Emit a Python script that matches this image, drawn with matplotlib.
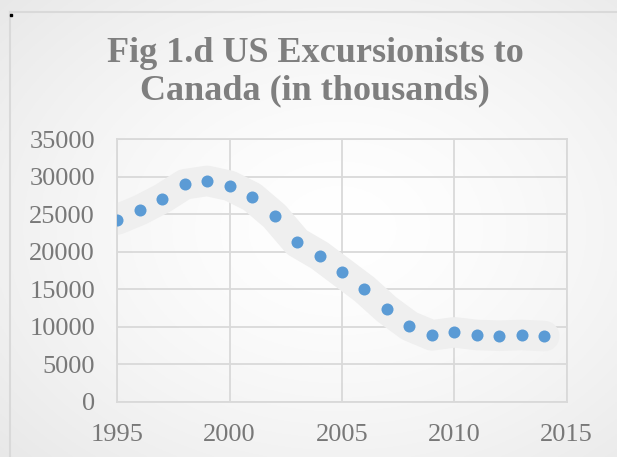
import matplotlib
matplotlib.use('Agg')
import matplotlib.pyplot as plt
import numpy as np

# data (thousands)
years = [1995, 1996, 1997, 1998, 1999, 2000, 2001, 2002, 2003, 2004,
         2005, 2006, 2007, 2008, 2009, 2010, 2011, 2012, 2013, 2014]
excursionists = [24300, 25550, 27100, 29000, 29450, 28800, 27300, 24750, 21250, 19500,
                 17250, 15000, 12300, 10100, 8850, 9250, 8900, 8800, 8900, 8750]
x_ticks = [1995, 2000, 2005, 2010, 2015]
y_ticks = [0, 5000, 10000, 15000, 20000, 25000, 30000, 35000]
title = "Fig 1.d US Excursionists to\nCanada (in thousands)"

plt.rcParams['font.family'] = ['Liberation Serif', 'DejaVu Serif']

fig = plt.figure(figsize=(6.17, 4.57), dpi=100)

# radial grey background of the chart area
bg = fig.add_axes([0, 0, 1, 1])
gx, gy = np.meshgrid(np.linspace(0, 1, 300), np.linspace(0, 1, 300))
r = np.sqrt(((gx - 0.55) / 0.75) ** 2 + ((gy - 0.5) / 0.75) ** 2)
shade = 1.0 - 0.09 * np.clip(r, 0, 1) ** 1.5
bg.imshow(np.dstack([shade, shade, shade]), extent=[0, 1, 0, 1], aspect='auto', origin='lower')
bg.set_xlim(0, 1)
bg.set_ylim(0, 1)
bg.axis('off')
# chart border (top and left visible)
bg.plot([10 / 617, 10 / 617], [0, 1 - 12 / 457], color='#d9d9d9', lw=1.5)
bg.plot([10 / 617, 1], [1 - 12 / 457, 1 - 12 / 457], color='#d9d9d9', lw=1.5)
bg.plot([11 / 617], [1 - 15 / 457], marker='s', color='black', ms=2)

fig.text(315 / 617, 1 - 72 / 457, title, ha='center', va='center', fontsize=26, fontweight='bold',
         color='#7f7f7f', linespacing=1.2)

ax = fig.add_axes([0.1901, 0.1210, 0.7284, 0.5742])
ax.patch.set_alpha(0)
ax.plot(years, excursionists, color='#efefef', lw=22, solid_capstyle='round',
        solid_joinstyle='round', zorder=2)
ax.scatter(years, excursionists, s=75, color='#5b9bd5', zorder=3, linewidths=0)

ax.set_xlim(1995, 2015)
ax.set_ylim(0, 35000)
ax.set_xticks(x_ticks)
ax.set_yticks(y_ticks)
ax.grid(True, color='#d9d9d9', lw=1.3)
ax.set_axisbelow(True)
for s in ax.spines.values():
    s.set_color('#d9d9d9')
    s.set_linewidth(1.3)
ax.tick_params(length=0, labelsize=19, labelcolor='#787878', pad=16)

fig.savefig('out.png', dpi=100)
